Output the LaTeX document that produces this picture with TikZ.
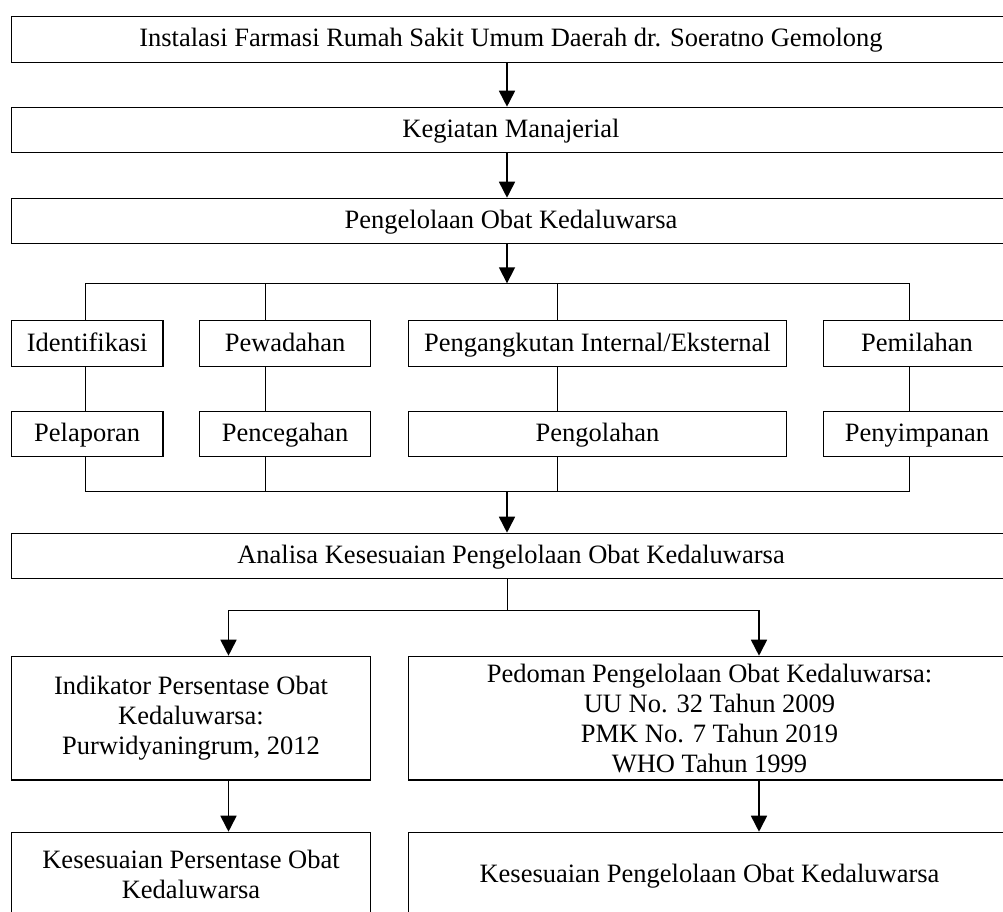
\documentclass[tikz,border=0pt]{standalone}
\usepackage{fontspec}
\setmainfont{Liberation Serif}
\usetikzlibrary{arrows.meta}
\begin{document}
\begin{tikzpicture}[x=1pt,y=-1pt,
  box/.style={draw, line width=1.3pt, inner sep=0pt, anchor=north west,
    font=\fontsize{26.5}{30}\selectfont, align=center},
  one/.style={text height=19pt, text depth=4pt},
  conn/.style={line width=0.8pt},
  arr/.style={line width=1.7pt, -{Triangle[width=16pt,length=16pt]}}]
\useasboundingbox (0,0) rectangle (1003,911);
\clip (0,0) rectangle (1003,911);

% column / junction coordinates
\coordinate (ax) at (507,0);
\coordinate (c1) at (85,0);
\coordinate (c2) at (265.7,0);
\coordinate (c3) at (556.9,0);
\coordinate (c4) at (909,0);
\coordinate (bl) at (228.5,0);
\coordinate (br) at (759,0);
\coordinate (hly) at (0,283.3);
\coordinate (bly) at (0,491.7);
\coordinate (by) at (0,610);

% boxes
\node[box,one,minimum width=999.3pt,minimum height=46pt] (ifrs) at (10.7,15.7)
  {Instalasi Farmasi Rumah Sakit Umum Daerah dr. Soeratno Gemolong};
\node[box,one,minimum width=999.3pt,minimum height=45pt] (keg) at (10.7,106.7)
  {Kegiatan Manajerial};
\node[box,one,minimum width=999.3pt,minimum height=45pt] (pok) at (10.7,197.7)
  {Pengelolaan Obat Kedaluwarsa};

\node[box,one,minimum width=151.6pt,minimum height=46pt] (idf) at (10.7,320) {Identifikasi};
\node[box,one,minimum width=171pt,minimum height=46pt] (pew) at (199,320) {Pewadahan};
\node[box,one,minimum width=378.3pt,minimum height=46pt] (pgk) at (407.7,320) {Pengangkutan Internal/Eksternal};
\node[box,one,minimum width=187.3pt,minimum height=46pt] (pml) at (822.7,320) {Pemilahan};

\node[box,one,minimum width=151.6pt,minimum height=45.3pt] (plp) at (10.7,410.7) {Pelaporan};
\node[box,one,minimum width=171pt,minimum height=45.3pt] (pcg) at (199,410.7) {Pencegahan};
\node[box,one,minimum width=378.3pt,minimum height=45.3pt] (pgl) at (407.7,410.7) {Pengolahan};
\node[box,one,minimum width=187.3pt,minimum height=45.3pt] (pny) at (822.7,410.7) {Penyimpanan};

\node[box,one,minimum width=999.3pt,minimum height=45pt] (ana) at (10.7,532.7)
  {Analisa Kesesuaian Pengelolaan Obat Kedaluwarsa};

\node[box,minimum width=359.3pt,minimum height=123.6pt] (ind) at (10.7,655.7)
  {Indikator Persentase Obat\\Kedaluwarsa:\\Purwidyaningrum, 2012};
\node[box,minimum width=602.3pt,minimum height=123.6pt] (ped) at (407.7,655.7)
  {Pedoman Pengelolaan Obat Kedaluwarsa:\\UU No. 32 Tahun 2009\\PMK No. 7 Tahun 2019\\WHO Tahun 1999};

\node[box,minimum width=359.3pt,minimum height=84.8pt] (kl) at (10.7,831.7)
  {Kesesuaian Persentase Obat\\Kedaluwarsa};
\node[box,one,minimum width=602.3pt,minimum height=84.8pt] (kr) at (407.7,831.7)
  {Kesesuaian Pengelolaan Obat Kedaluwarsa};

% main arrows
\draw[arr] (ifrs.south -| ax) -- (keg.north -| ax);
\draw[arr] (keg.south -| ax) -- (pok.north -| ax);
\draw[arr] (pok.south -| ax) -- (ax |- hly);

% distribution line
\draw[conn] (c1 |- idf.north) -- (c1 |- hly) -- (c4 |- hly) -- (c4 |- pml.north);
\draw[conn] (c2 |- hly) -- (c2 |- pew.north);
\draw[conn] (c3 |- hly) -- (c3 |- pgk.north);

% between rows
\draw[conn] (c1 |- idf.south) -- (c1 |- plp.north);
\draw[conn] (c2 |- pew.south) -- (c2 |- pcg.north);
\draw[conn] (c3 |- pgk.south) -- (c3 |- pgl.north);
\draw[conn] (c4 |- pml.south) -- (c4 |- pny.north);

% collecting line
\draw[conn] (c1 |- plp.south) -- (c1 |- bly) -- (c4 |- bly) -- (c4 |- pny.south);
\draw[conn] (c2 |- pcg.south) -- (c2 |- bly);
\draw[conn] (c3 |- pgl.south) -- (c3 |- bly);
\draw[arr] (ax |- bly) -- (ana.north -| ax);

% branch
\draw[conn] (ana.south -| ax) -- (ax |- by);
\draw[conn] (bl |- by) -- (br |- by);
\draw[arr] (bl |- by) -- (bl |- ind.north);
\draw[arr] (br |- by) -- (br |- ped.north);

% lower arrows
\draw[arr] (ind.south -| bl) -- (kl.north -| bl);
\draw[arr] (ped.south -| br) -- (kr.north -| br);
\end{tikzpicture}
\end{document}
